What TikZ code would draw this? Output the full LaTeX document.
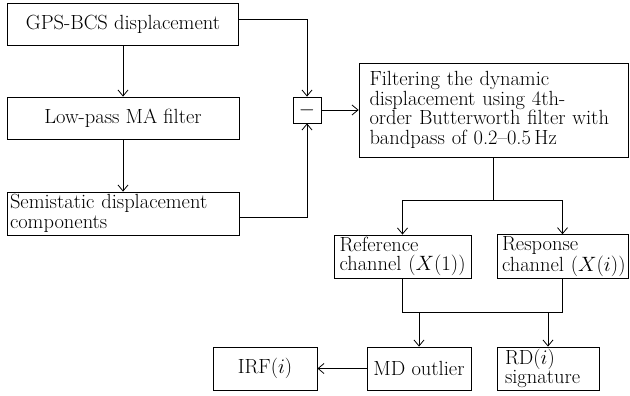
\documentclass[tikz,border=0pt]{standalone}
\usetikzlibrary{arrows.meta,calc}
\begin{document}
\begin{tikzpicture}[x=1pt,y=-1pt,
  box/.style={draw, line width=0.8pt, inner sep=2pt, font=\fontsize{20.5}{19.5}\selectfont},
  conn/.style={line width=0.8pt},
  arr/.style={line width=0.8pt, -{Straight Barb[length=6pt,width=10pt]}}]
\useasboundingbox (0,0) rectangle (630,396);
\node[box, minimum width=231pt, minimum height=42pt] (gps) at (123,24) {GPS-BCS displacement};
\node[box, minimum width=232pt, minimum height=42pt] (lp) at (123,118) {Low-pass MA filter};
\node[box, minimum width=232pt, minimum height=43pt, text width=226pt, align=left] (semi) at (123,213.5) {Semistatic displacement\\components};
\node[box, minimum width=28pt, minimum height=26pt] (minus) at (307,110) {$-$};
\node[box, minimum width=269pt, minimum height=94pt, text width=248pt, align=left] (filt) at (493.5,110) {Filtering the dynamic\\displacement using 4th-\\order Butterworth filter with\\bandpass of 0.2--0.5\,Hz};
\node[box, minimum width=137pt, minimum height=43pt, text width=126pt, align=left] (ref) at (402.5,256.5) {Reference\\\mbox{channel ($X(1)$)}};
\node[box, minimum width=131pt, minimum height=43pt, text width=121pt, align=left] (resp) at (562.5,256.5) {Response\\\mbox{channel ($X(i)$)}};
\node[box, minimum width=104pt, minimum height=43pt] (md) at (419,368.5) {MD outlier};
\node[box, minimum width=102pt, minimum height=43pt, text width=86pt, align=left] (rd) at (548,368.5) {RD($i$)\\signature};
\node[box, minimum width=104pt, minimum height=43pt] (irf) at (265,368.5) {IRF($i$)};
\coordinate (split) at (filt.south |- 0,200);
\coordinate (join) at (0,312);
\draw[arr] (gps) -- (lp);
\draw[arr] (lp) -- (semi);
\draw[arr] ($(gps.north east)!0.4!(gps.south east)$) -| (minus.north);
\draw[arr] ($(semi.north east)!0.58!(semi.south east)$) -| (minus.south);
\draw[arr] (minus) -- (filt);
\draw[conn] (filt.south) -- (split);
\draw[arr] (split) -| (ref.north);
\draw[arr] (split) -| (resp.north);
\draw[conn] (ref.south) |- (resp.south |- join) -- (resp.south);
\draw[arr] (md.north |- join) -- (md.north);
\draw[arr] (rd.north |- join) -- (rd.north);
\draw[arr] (md) -- (irf);
\end{tikzpicture}
\end{document}
